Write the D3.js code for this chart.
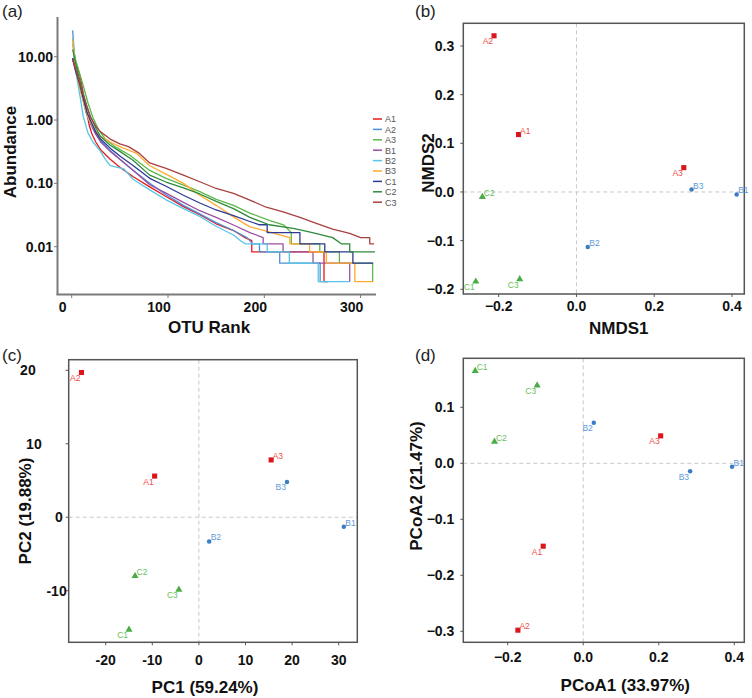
<!DOCTYPE html>
<html><head><meta charset="utf-8">
<script src="https://cdn.jsdelivr.net/npm/d3@7"></script>
<style>
html,body{margin:0;padding:0;background:#fff;}
svg{display:block;font-family:"Liberation Sans",Arial,sans-serif;}
</style></head>
<body>
<svg id="chart" width="752" height="698"></svg>
<script>
// ---------- Panel (a): rank-abundance curves ----------
const seriesNames = ["A1","A2","A3","B1","B2","B3","C1","C2","C3"];
const seriesColors = ["#e41a1c","#4f8fd6","#5cb848","#9b4fa4","#55c6e6","#ffab2e","#2c3a96","#2f8a3c","#a8403f"];
const curveA1 = [[1,9.5],[3,8],[6,6.8],[9,4.8],[12,2.6],[15,1.5],[18,0.85],[21,0.6],[25,0.45],[30,0.34],[40,0.24],[50,0.18],[64,0.127],[81,0.088],[98,0.062],[116,0.043],[133,0.032],[150,0.023],[168,0.018],[180,0.0139],[187,0.0125],[187,0.0083],[262,0.0083],[262,0.0028],[266,0.0028]];
const curveA2 = [[1,26],[3,10],[6,5],[10,2.8],[15,1.3],[20,0.85],[25,0.6],[30,0.48],[40,0.33],[50,0.24],[64,0.16],[81,0.1],[98,0.066],[116,0.045],[133,0.033],[150,0.024],[168,0.018],[182,0.0139],[188,0.0111],[195,0.0111],[195,0.0083],[216,0.0083],[216,0.0055],[258,0.0055],[258,0.0028],[266,0.0028]];
const curveA3 = [[1,16],[4,9],[8,5.5],[12,3.5],[17,1.84],[22,1.1],[28,0.7],[35,0.5],[45,0.38],[60,0.28],[81,0.16],[98,0.12],[116,0.094],[133,0.074],[150,0.056],[168,0.045],[185,0.034],[205,0.026],[220,0.0222],[228,0.0167],[228,0.0111],[257.6,0.0111],[257.6,0.0083],[278,0.0083],[278,0.0055],[312.5,0.0055],[312.5,0.0028]];
const curveB1 = [[1,9],[4,6],[8,3.5],[12,2],[16,1.2],[20,0.85],[25,0.6],[30,0.45],[40,0.32],[50,0.24],[64,0.16],[81,0.095],[98,0.07],[116,0.05],[133,0.037],[150,0.029],[168,0.022],[185,0.0167],[198.8,0.0139],[198.8,0.0111],[219.5,0.0111],[219.5,0.0083],[250.6,0.0083],[250.6,0.0055],[288.7,0.0055],[288.7,0.0028]];
const curveB2 = [[1,20],[3,8],[6,4],[9,2.2],[12,1.13],[17,0.62],[22,0.45],[29,0.336],[35,0.24],[40,0.19],[54,0.17],[64,0.115],[81,0.079],[98,0.055],[116,0.04],[133,0.03],[150,0.021],[168,0.0153],[175,0.0125],[180,0.0111],[203,0.0111],[203,0.0083],[226,0.0083],[226,0.0055],[256,0.0055],[256,0.0028],[288.7,0.0028]];
const curveB3 = [[1,19],[3,9],[6,4.5],[10,2.6],[14,1.5],[18,1.0],[24,0.7],[30,0.55],[40,0.45],[50,0.38],[59,0.336],[67,0.3],[81,0.19],[98,0.14],[116,0.1],[133,0.065],[150,0.045],[168,0.0296],[185,0.0206],[205,0.0172],[226.5,0.0139],[226.5,0.0111],[247,0.0111],[247,0.0083],[264.5,0.0083],[264.5,0.0055],[294,0.0055],[294,0.0028],[313,0.0028]];
const curveC1 = [[1,9.5],[4,6],[8,3.8],[12,2.2],[16,1.3],[20,0.95],[25,0.65],[30,0.5],[40,0.36],[50,0.27],[64,0.19],[81,0.12],[98,0.09],[116,0.065],[133,0.049],[150,0.038],[168,0.031],[185,0.025],[195,0.0222],[203,0.0222],[203,0.0167],[237,0.0167],[237,0.0111],[262.8,0.0111],[262.8,0.0083],[292,0.0083],[292,0.0055],[313,0.0055]];
const curveC2 = [[1,13],[4,8],[8,4.5],[12,2.6],[16,1.6],[20,1.1],[25,0.75],[30,0.55],[40,0.4],[50,0.32],[64,0.23],[81,0.135],[98,0.105],[116,0.085],[133,0.068],[150,0.052],[168,0.04],[185,0.029],[205,0.0222],[230,0.0194],[250,0.0167],[271,0.0139],[280,0.0111],[288.7,0.0111],[288.7,0.0083],[315,0.0083]];
const curveC3 = [[1,9],[4,6.5],[8,4],[12,2.5],[16,1.6],[19,1.13],[25,0.8],[30,0.65],[40,0.5],[50,0.42],[59,0.38],[70,0.3],[81,0.21],[98,0.173],[116,0.135],[133,0.106],[150,0.083],[168,0.0695],[185,0.0545],[202,0.042],[219.5,0.0356],[237,0.029],[254,0.0233],[271,0.019],[288.7,0.0162],[300,0.0139],[309.5,0.0139],[309.5,0.0111],[314,0.0111]];
const curves = [curveA1,curveA2,curveA3,curveB1,curveB2,curveB3,curveC1,curveC2,curveC3];
const rankTicks = [0,100,200,300];
const abundTicks = [10,1,0.1,0.01];
const abundTickLabels = ["10.00","1.00","0.10","0.01"];

// ---------- Ordination data ----------
const sampleNames = ["A1","A2","A3","B1","B2","B3","C1","C2","C3"];
const sampleGroup = ["A","A","A","B","B","B","C","C","C"];
const nmds1 = [-0.149,-0.212,0.276,0.412,0.029,0.296,-0.259,-0.242,-0.146];
const nmds2 = [0.118,0.321,0.050,-0.005,-0.113,0.005,-0.184,-0.010,-0.179];
const pc1 = [-9.5,-25.2,15.5,31.1,2.2,18.9,-15.0,-13.7,-4.3];
const pc2 = [5.6,19.7,7.8,-1.3,-3.3,4.8,-15.3,-8.0,-9.85];
const pcoa1 = [-0.106,-0.173,0.205,0.394,0.028,0.283,-0.286,-0.235,-0.122];
const pcoa2 = [-0.148,-0.298,0.049,-0.006,0.0726,-0.014,0.165,0.0386,0.139];
const nmdsXTicks = [-0.2,0.0,0.2,0.4];
const nmdsYTicks = [-0.2,-0.1,0.0,0.1,0.2,0.3];
const pcXTicks = [-20,-10,0,10,20,30];
const pcYTicks = [-10,0,10,20];
const pcoaXTicks = [-0.2,0.0,0.2,0.4];
const pcoaYTicks = [-0.3,-0.2,-0.1,0.0,0.1];
// label placement side: "ur" = upper right, "ll" = lower left
const nmdsLabelSide = ["ur","ll","ll","ur","ur","ur","ll","ur","ll"];
const pcLabelSide = ["ll","ll","ur","ur","ur","ll","ll","ur","ll"];
const pcoaLabelSide = ["ll","ur","ll","ur","ll","ll","ur","ur","ll"];
// layout: horizontal nudges of the PC2 tick labels as printed in the figure
const pcYLabelNudge = [7,3,-18,-24];

const groupMarkColor = {A:"#d9161c",B:"#3b7cc6",C:"#4aad45"};
const groupTextColor = {A:"#ee4d4a",B:"#5d9bd8",C:"#68c058"};
const groupSymbol = {A:d3.symbolSquare,B:d3.symbolCircle,C:d3.symbolTriangle};
const groupSymbolSize = {A:26,B:16,C:22};

const svg = d3.select("#chart");
const TICKFONT = "14px";

// ---------- Panel (a) ----------
(function(){
  const x = d3.scaleLinear().domain([0,300]).range([71.7,360.6]);
  const y = d3.scaleLog().domain([10,0.01]).range([56.7,246.7]);
  const g = svg.append("g");
  const line = d3.line().x(d=>x(d[0])).y(d=>y(d[1]));
  curves.forEach((c,i)=>{
    g.append("path").attr("d",line(c)).attr("fill","none")
      .attr("stroke",seriesColors[i]).attr("stroke-width",1.3).attr("stroke-linejoin","round");
  });
  g.append("line").attr("x1",57.5).attr("x2",57.5).attr("y1",17).attr("y2",295).attr("stroke","#7a7a7a").attr("stroke-width",2);
  g.append("line").attr("x1",56.5).attr("x2",376).attr("y1",294.5).attr("y2",294.5).attr("stroke","#7a7a7a").attr("stroke-width",2);
  rankTicks.forEach(t=>{
    g.append("line").attr("x1",x(t)).attr("x2",x(t)).attr("y1",295).attr("y2",298).attr("stroke","#7a7a7a").attr("stroke-width",1);
    g.append("text").attr("x",x(t)-9).attr("y",312).attr("text-anchor","middle")
      .attr("font-size",TICKFONT).attr("font-weight","bold").attr("fill","#111").text(t);
  });
  abundTicks.forEach((t,i)=>{
    g.append("line").attr("x1",54).attr("x2",57).attr("y1",y(t)).attr("y2",y(t)).attr("stroke","#7a7a7a").attr("stroke-width",1);
    g.append("text").attr("x",53).attr("y",y(t)+5).attr("text-anchor","end")
      .attr("font-size",TICKFONT).attr("font-weight","bold").attr("fill","#111").text(abundTickLabels[i]);
  });
  g.append("text").attr("x",209).attr("y",333).attr("text-anchor","middle")
    .attr("font-size","17px").attr("font-weight","bold").attr("fill","#111").text("OTU Rank");
  g.append("text").attr("transform","translate(15.5,152) rotate(-90)").attr("text-anchor","middle")
    .attr("font-size","17px").attr("font-weight","bold").attr("fill","#111").text("Abundance");
  seriesNames.forEach((n,i)=>{
    const yy = 119 + i*10.4;
    g.append("line").attr("x1",373).attr("x2",382).attr("y1",yy).attr("y2",yy).attr("stroke",seriesColors[i]).attr("stroke-width",1.5);
    g.append("text").attr("x",385).attr("y",yy+3.3).attr("font-size","9px").attr("fill","#555").text(n);
  });
  svg.append("text").attr("x",2).attr("y",17).attr("font-size","17px").attr("fill","#222").text("(a)");
})();

// ---------- Scatter panel builder ----------
function scatterPanel(opt){
  const {box, xs, ys, xd, yd, xv, yv, xticks, yticks, sides, xtitle, ytitle, xtPos, ytPos, tag, tagPos, yfmt, xfmt, xlabDy, yNudge} = opt;
  const x = d3.scaleLinear().domain(xd).range(xs);
  const y = d3.scaleLinear().domain(yd).range(ys);
  const g = svg.append("g");
  g.append("line").attr("x1",x(0)).attr("x2",x(0)).attr("y1",box[1]).attr("y2",box[3])
    .attr("stroke","#c8c8c8").attr("stroke-width",1).attr("stroke-dasharray","4,3");
  g.append("line").attr("x1",box[0]).attr("x2",box[2]).attr("y1",y(0)).attr("y2",y(0))
    .attr("stroke","#c8c8c8").attr("stroke-width",1).attr("stroke-dasharray","4,3");
  g.append("rect").attr("x",box[0]).attr("y",box[1]).attr("width",box[2]-box[0]).attr("height",box[3]-box[1])
    .attr("fill","none").attr("stroke","#555").attr("stroke-width",1.5);
  xticks.forEach(t=>{
    g.append("line").attr("x1",x(t)).attr("x2",x(t)).attr("y1",box[3]).attr("y2",box[3]+3).attr("stroke","#555");
    g.append("text").attr("x",x(t)).attr("y",box[3]+xlabDy).attr("text-anchor","middle")
      .attr("font-size",TICKFONT).attr("font-weight","bold").attr("fill","#111").text(xfmt(t));
  });
  yticks.forEach((t,i)=>{
    const nudge = yNudge ? yNudge[i] : 0;
    g.append("line").attr("x1",box[0]-3).attr("x2",box[0]).attr("y1",y(t)).attr("y2",y(t)).attr("stroke","#555");
    g.append("text").attr("x",box[0]-9+nudge).attr("y",y(t)+5).attr("text-anchor","end")
      .attr("font-size",TICKFONT).attr("font-weight","bold").attr("fill","#111").text(yfmt(t));
  });
  sampleNames.forEach((n,i)=>{
    const grp = sampleGroup[i];
    const px = x(xv[i]), py = y(yv[i]);
    g.append("path").attr("d",d3.symbol().type(groupSymbol[grp]).size(groupSymbolSize[grp])())
      .attr("transform",`translate(${px},${py})`).attr("fill",groupMarkColor[grp]);
    const ur = sides[i]==="ur";
    g.append("text").attr("x", ur ? px+1.5 : px-1)
      .attr("y", ur ? py-1 : py+8.5)
      .attr("text-anchor", ur ? "start" : "end")
      .attr("font-size","8.5px").attr("fill",groupTextColor[grp]).text(n);
  });
  g.append("text").attr("x",xtPos[0]).attr("y",xtPos[1]).attr("text-anchor","middle")
    .attr("font-size","17px").attr("font-weight","bold").attr("fill","#111").text(xtitle);
  g.append("text").attr("transform",`translate(${ytPos[0]},${ytPos[1]}) rotate(-90)`).attr("text-anchor","middle")
    .attr("font-size","17px").attr("font-weight","bold").attr("fill","#111").text(ytitle);
  svg.append("text").attr("x",tagPos[0]).attr("y",tagPos[1]).attr("font-size","17px").attr("fill","#222").text(tag);
}
const f1 = d3.format(".1f");
const f0 = d=>String(d);

scatterPanel({box:[463.3,23.3,744.3,294], xs:[498.7,732], ys:[289.3,46], xd:[-0.2,0.4], yd:[-0.2,0.3],
  xv:nmds1, yv:nmds2, xticks:nmdsXTicks, yticks:nmdsYTicks, sides:nmdsLabelSide,
  xtitle:"NMDS1", ytitle:"NMDS2", xtPos:[618.7,334], ytPos:[434,163], tag:"(b)", tagPos:[415,17], yfmt:f1, xfmt:f1, xlabDy:17});
scatterPanel({box:[68.7,359.7,357.3,642.3], xs:[105.7,338.7], ys:[590.7,370.3], xd:[-20,30], yd:[-10,20],
  xv:pc1, yv:pc2, xticks:pcXTicks, yticks:pcYTicks, sides:pcLabelSide,
  xtitle:"PC1 (59.24%)", ytitle:"PC2 (19.88%)", xtPos:[205,693], ytPos:[31,511], tag:"(c)", tagPos:[2,361], yfmt:f0, xfmt:f0, xlabDy:23, yNudge:pcYLabelNudge});
scatterPanel({box:[463.3,358.3,744.3,642.3], xs:[507.7,734.3], ys:[631.3,407.3], xd:[-0.2,0.4], yd:[-0.3,0.1],
  xv:pcoa1, yv:pcoa2, xticks:pcoaXTicks, yticks:pcoaYTicks, sides:pcoaLabelSide,
  xtitle:"PCoA1 (33.97%)", ytitle:"PCoA2 (21.47%)", xtPos:[625.3,691], ytPos:[422,486], tag:"(d)", tagPos:[415,361], yfmt:f1, xfmt:f1, xlabDy:20});
</script>
</body></html>
